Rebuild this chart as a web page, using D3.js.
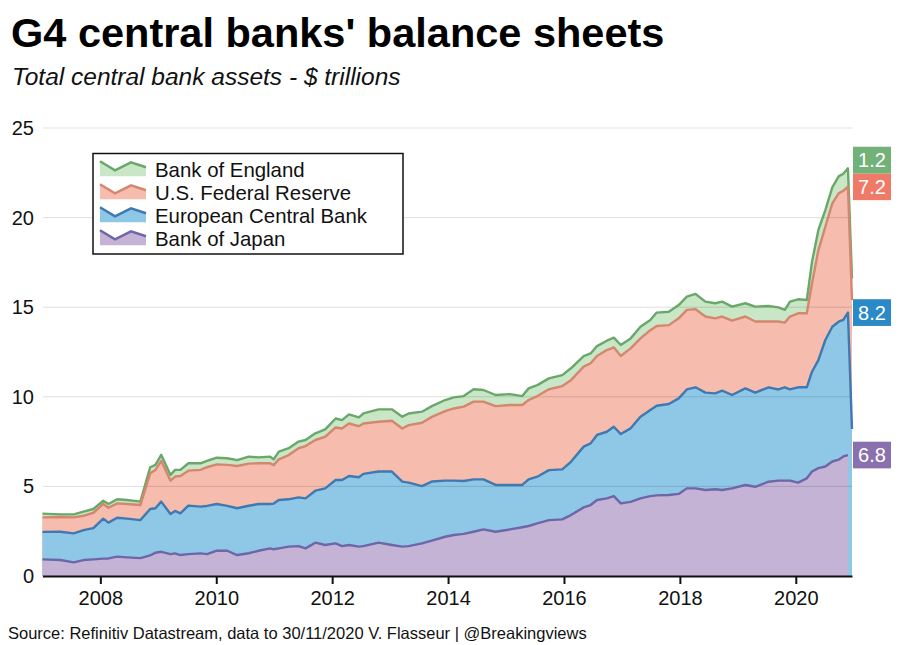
<!DOCTYPE html>
<html>
<head>
<meta charset="utf-8">
<script src="https://cdn.jsdelivr.net/npm/d3@7"></script>
<style>
  html, body { margin: 0; padding: 0; background: #fff; }
  svg { display: block; font-family: "Liberation Sans", Arial, sans-serif; }
</style>
</head>
<body>
<svg id="chart" width="903" height="645"></svg>
<script>
// ---- Data (decimal year, $ trillions) ----
const years = [
  2007.00, 2007.31, 2007.54, 2007.71, 2007.88,
  2008.05, 2008.14, 2008.29, 2008.46, 2008.69, 2008.86, 2008.95,
  2009.05, 2009.21, 2009.29, 2009.38, 2009.52, 2009.73, 2009.84,
  2010.01, 2010.19, 2010.36, 2010.56, 2010.73, 2010.93, 2010.99,
  2011.08, 2011.25, 2011.42, 2011.54, 2011.71, 2011.88,
  2012.06, 2012.17, 2012.29, 2012.46, 2012.54, 2012.80,
  2013.03, 2013.21, 2013.32, 2013.55, 2013.72, 2013.95,
  2014.10, 2014.27, 2014.44, 2014.61, 2014.82,
  2015.07, 2015.28, 2015.39, 2015.54, 2015.74, 2015.97,
  2016.12, 2016.34, 2016.46, 2016.57, 2016.74, 2016.86, 2016.98,
  2017.15, 2017.32, 2017.49, 2017.60, 2017.81, 2017.98,
  2018.12, 2018.27, 2018.44, 2018.61, 2018.73, 2018.90,
  2019.13, 2019.30, 2019.53, 2019.70, 2019.81, 2019.90,
  2020.04, 2020.19, 2020.28, 2020.39, 2020.51, 2020.63, 2020.74, 2020.82, 2020.90, 2020.97
];
const bankOfJapan = [
  0.93, 0.89, 0.76, 0.89, 0.93,
  0.97, 0.98, 1.08, 1.04, 1.00, 1.15, 1.30,
  1.35, 1.22, 1.26, 1.17, 1.22, 1.26, 1.22,
  1.41, 1.41, 1.17, 1.27, 1.41, 1.54, 1.49,
  1.54, 1.64, 1.67, 1.54, 1.86, 1.73,
  1.82, 1.67, 1.73, 1.64, 1.67, 1.86,
  1.73, 1.64, 1.67, 1.82, 1.97, 2.19,
  2.29, 2.35, 2.47, 2.60, 2.47,
  2.60, 2.72, 2.79, 2.94, 3.12, 3.16,
  3.40, 3.83, 3.96, 4.24, 4.33, 4.46, 4.05,
  4.14, 4.33, 4.46, 4.50, 4.52, 4.58,
  4.89, 4.89, 4.80, 4.84, 4.80, 4.89,
  5.08, 4.98, 5.26, 5.32, 5.32, 5.32,
  5.21, 5.45, 5.83, 6.02, 6.11, 6.39, 6.49, 6.67, 6.75, null
];
const europeanCentralBank = [
  1.53, 1.58, 1.62, 1.67, 1.74,
  2.23, 2.00, 2.17, 2.16, 2.12, 2.59, 2.48,
  2.80, 2.24, 2.37, 2.33, 2.71, 2.61, 2.69,
  2.61, 2.50, 2.61, 2.65, 2.61, 2.48, 2.55,
  2.70, 2.64, 2.72, 2.79, 2.90, 3.16,
  3.54, 3.69, 3.85, 3.87, 4.03, 3.97,
  4.10, 3.63, 3.54, 3.20, 3.30, 3.13,
  3.03, 2.95, 2.92, 2.79, 2.61,
  2.48, 2.36, 2.60, 2.60, 2.79, 2.79,
  2.97, 3.39, 3.44, 3.63, 3.72, 3.87, 3.87,
  4.10, 4.56, 4.80, 5.00, 5.08, 5.33,
  5.52, 5.64, 5.43, 5.35, 5.54, 5.21,
  5.39, 5.25, 5.27, 5.09, 5.21, 5.09,
  5.32, 5.08, 5.57, 6.03, 7.06, 7.52, 7.70, 7.62, 7.95, 8.2
];
const federalReserve = [
  0.81, 0.82, 0.89, 0.80, 0.86,
  0.82, 0.83, 0.80, 0.82, 0.84, 1.99, 2.14,
  2.28, 1.86, 1.92, 2.08, 1.95, 2.05, 2.16,
  2.21, 2.29, 2.36, 2.35, 2.27, 2.27, 2.15,
  2.27, 2.47, 2.74, 2.92, 2.83, 2.88,
  2.93, 2.87, 2.93, 2.85, 2.81, 2.78,
  2.83, 2.96, 3.21, 3.53, 3.61, 3.88,
  4.03, 4.15, 4.34, 4.34, 4.40,
  4.46, 4.46, 4.43, 4.50, 4.51, 4.65,
  4.56, 4.46, 4.47, 4.41, 4.56, 4.43, 4.36,
  4.46, 4.37, 4.46, 4.45, 4.40, 4.47,
  4.44, 4.36, 4.25, 4.19, 4.14, 4.15,
  4.01, 3.97, 3.67, 3.79, 3.61, 4.07,
  4.13, 4.13, 4.93, 6.14, 6.32, 6.88, 7.16, 7.21, 7.02, 7.2
];
const bankOfEngland = [
  0.21, 0.15, 0.17, 0.23, 0.21,
  0.18, 0.21, 0.23, 0.22, 0.19, 0.34, 0.28,
  0.33, 0.32, 0.37, 0.34, 0.41, 0.37, 0.35,
  0.37, 0.37, 0.33, 0.39, 0.33, 0.37, 0.32,
  0.43, 0.38, 0.37, 0.34, 0.37, 0.41,
  0.50, 0.47, 0.51, 0.49, 0.56, 0.69,
  0.64, 0.66, 0.65, 0.62, 0.60, 0.62,
  0.62, 0.59, 0.69, 0.65, 0.62,
  0.61, 0.50, 0.65, 0.61, 0.61, 0.61,
  0.66, 0.59, 0.55, 0.55, 0.52, 0.54, 0.61,
  0.56, 0.65, 0.57, 0.75, 0.75, 0.74,
  0.74, 0.85, 0.83, 0.84, 0.83, 0.78,
  0.74, 0.83, 0.87, 0.79, 0.71, 0.83,
  0.78, 0.74, 1.20, 1.12, 0.93, 0.90, 0.95, 0.95, 1.03, 1.2
];
const seriesNames = ["Bank of Japan", "European Central Bank", "U.S. Federal Reserve", "Bank of England"];
const xTickValues = [2008, 2010, 2012, 2014, 2016, 2018, 2020];
const yTickValues = [0, 5, 10, 15, 20, 25];

const titleText = "G4 central banks' balance sheets";
const subtitleText = "Total central bank assets - $ trillions";
const sourceText = "Source: Refinitiv Datastream, data to 30/11/2020 V. Flasseur | @Breakingviews";

// ---- Styles ----
const fills = ["#c5b3d6", "#8fc7e7", "#f6bcad", "#c9e7c6"];
const strokes = ["#6d66a8", "#3f79b0", "#d3876f", "#6aa76a"];
const boxColors = ["#8a71ae", "#2a89c6", "#ee7a67", "#72b279"];

const svg = d3.select("#chart");
const x = d3.scaleLinear().domain([2007, 2020.97]).range([42.4, 852]);
const y = d3.scaleLinear().domain([0, 25]).range([576, 128]);

const seriesValues = [bankOfJapan, europeanCentralBank, federalReserve, bankOfEngland];

// cumulative tops
const rows = years.map((yr, i) => {
  let c = 0;
  const tops = seriesValues.map(s => { c += (s[i] == null ? 0 : s[i]); return c; });
  return { yr, tops, defined: seriesValues.map(s => s[i] != null) };
});

// Areas: each drawn from 0 to its cumulative top, top-most layer first
for (let k = 3; k >= 0; k--) {
  const area = d3.area()
    .defined(d => d.defined[k])
    .x(d => x(d.yr))
    .y0(y(0))
    .y1(d => y(d.tops[k]));
  svg.append("path").datum(rows).attr("d", area).attr("fill", fills[k]);
}

// Gridlines over areas (faint)
svg.append("g").selectAll("line").data(yTickValues.filter(v => v > 0)).join("line")
  .attr("x1", 43).attr("x2", 852)
  .attr("y1", d => y(d)).attr("y2", d => y(d))
  .attr("stroke", "rgba(0,0,0,0.13)").attr("stroke-width", 1);

// Lines
for (let k = 3; k >= 0; k--) {
  const line = d3.line()
    .defined(d => d.defined[k])
    .x(d => x(d.yr))
    .y(d => y(d.tops[k]));
  svg.append("path").datum(rows).attr("d", line)
    .attr("fill", "none").attr("stroke", strokes[k])
    .attr("stroke-width", 2.4).attr("stroke-linejoin", "round");
}

// Y axis labels
const yAxis = d3.axisLeft(y).tickValues(yTickValues).tickSize(0).tickPadding(9);
const gy = svg.append("g").attr("transform", "translate(43,0)").call(yAxis);
gy.select(".domain").remove();
gy.selectAll("text").attr("font-size", 20).attr("fill", "#111")
  .attr("font-family", "Liberation Sans, Arial, sans-serif");

// X axis
const xAxis = d3.axisBottom(x).tickValues(xTickValues).tickFormat(d3.format("d"))
  .tickSize(8).tickPadding(7).tickSizeOuter(0);
const gx = svg.append("g").attr("transform", "translate(0,576)").call(xAxis);
gx.select(".domain").attr("stroke", "#111").attr("stroke-width", 2.2);
gx.selectAll(".tick line").attr("stroke", "#111").attr("stroke-width", 2);
gx.selectAll("text").attr("font-size", 20).attr("fill", "#111")
  .attr("font-family", "Liberation Sans, Arial, sans-serif");

// End value boxes
const penult = rows[rows.length - 2];
const boxH = 26.7, boxW = 38, boxX = 853;
const boxY = [];
for (let k = 0; k < 4; k++) {
  let cy = y(penult.tops[k]);
  if (k > 0) cy = Math.min(cy, boxY[k - 1] - boxH);
  boxY.push(cy);
}
const fmt = d3.format(".1f");
for (let k = 0; k < 4; k++) {
  const s = seriesValues[k];
  let lastVal = null;
  for (let i = s.length - 1; i >= 0; i--) if (s[i] != null) { lastVal = s[i]; break; }
  svg.append("rect").attr("x", boxX).attr("y", boxY[k] - boxH / 2)
    .attr("width", boxW).attr("height", boxH).attr("fill", boxColors[k]);
  svg.append("text").attr("x", boxX + boxW / 2).attr("y", boxY[k] + 7)
    .attr("text-anchor", "middle").attr("font-size", 20).attr("fill", "#fff")
    .text(fmt(lastVal));
}

// Legend
const legend = svg.append("g");
legend.append("rect").attr("x", 93).attr("y", 153.5).attr("width", 310).attr("height", 100.5)
  .attr("fill", "#fff").attr("stroke", "#111").attr("stroke-width", 1.5);
const legendOrder = [3, 2, 1, 0];
legendOrder.forEach((k, j) => {
  const cy = 169.3 + j * 23;
  const top = [[100, cy - 8], [115, cy + 1], [131, cy - 7], [146, cy - 2]];
  const poly = top.concat([[146, cy + 7], [100, cy + 7]]);
  legend.append("path").attr("d", "M" + poly.map(p => p.join(",")).join("L") + "Z")
    .attr("fill", fills[k]);
  legend.append("path").attr("d", "M" + top.map(p => p.join(",")).join("L"))
    .attr("fill", "none").attr("stroke", strokes[k]).attr("stroke-width", 2.5);
  legend.append("text").attr("x", 155).attr("y", cy + 7.5)
    .attr("font-size", 20.4).attr("fill", "#111").text(seriesNames[k]);
});

// Titles
svg.append("text").attr("x", 11).attr("y", 47).attr("font-size", 41.5)
  .attr("font-weight", "bold").attr("fill", "#000").text(titleText);
svg.append("text").attr("x", 12).attr("y", 85).attr("font-size", 24.5)
  .attr("font-style", "italic").attr("fill", "#111").text(subtitleText);
svg.append("text").attr("x", 8).attr("y", 639).attr("font-size", 16.5)
  .attr("fill", "#111").text(sourceText);
</script>
</body>
</html>
